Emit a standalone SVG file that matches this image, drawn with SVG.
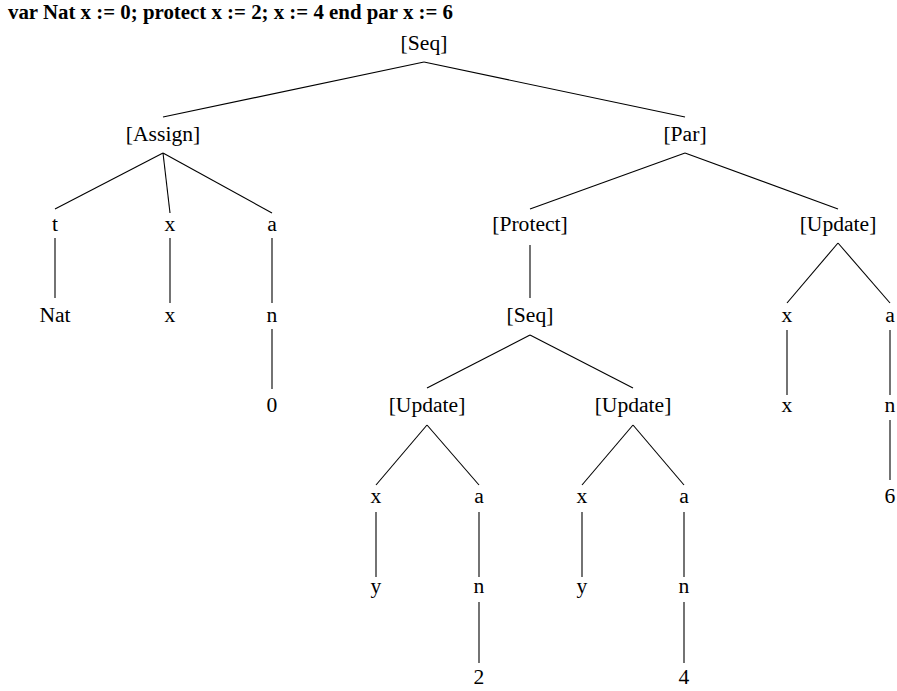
<svg xmlns="http://www.w3.org/2000/svg" width="897" height="691" viewBox="0 0 897 691">
<style>
text{font-family:"Liberation Serif","DejaVu Serif",serif;font-size:21.6px;fill:#000;text-anchor:middle}
.title{font-weight:bold;font-size:20px;text-anchor:start}
#edges line{stroke:#000;stroke-width:1.1}
</style>
<rect width="897" height="691" fill="#fff"/>
<text class="title" x="8" y="19" textLength="445" lengthAdjust="spacingAndGlyphs">var Nat x := 0; protect x := 2; x := 4 end par x := 6</text>
<g id="edges">
<line x1="424" y1="62" x2="163" y2="117"/>
<line x1="424" y1="62" x2="685" y2="117"/>
<line x1="163" y1="153" x2="55" y2="209"/>
<line x1="163" y1="153" x2="170" y2="213"/>
<line x1="163" y1="153" x2="272" y2="213"/>
<line x1="685" y1="153" x2="530" y2="209"/>
<line x1="685" y1="153" x2="838" y2="209"/>
<line x1="55" y1="238" x2="55" y2="298"/>
<line x1="170" y1="238" x2="170" y2="303"/>
<line x1="272" y1="238" x2="272" y2="303"/>
<line x1="272" y1="329" x2="272" y2="389"/>
<line x1="530" y1="245" x2="530" y2="298"/>
<line x1="838" y1="243" x2="787" y2="303"/>
<line x1="838" y1="243" x2="890" y2="303"/>
<line x1="530" y1="335" x2="427" y2="388"/>
<line x1="530" y1="335" x2="633" y2="388"/>
<line x1="787" y1="330" x2="787" y2="395"/>
<line x1="890" y1="330" x2="890" y2="395"/>
<line x1="890" y1="420" x2="890" y2="480"/>
<line x1="427" y1="425" x2="376" y2="485"/>
<line x1="427" y1="425" x2="479" y2="485"/>
<line x1="633" y1="425" x2="582" y2="485"/>
<line x1="633" y1="425" x2="684" y2="485"/>
<line x1="376" y1="512" x2="376" y2="577"/>
<line x1="479" y1="512" x2="479" y2="577"/>
<line x1="582" y1="512" x2="582" y2="577"/>
<line x1="684" y1="512" x2="684" y2="577"/>
<line x1="479" y1="602" x2="479" y2="663"/>
<line x1="684" y1="602" x2="684" y2="663"/>
</g>
<g id="n-seq"><text x="424" y="50">[Seq]</text></g>
<g id="n-assign"><text x="163" y="141">[Assign]</text></g>
<g id="n-par"><text x="685" y="141">[Par]</text></g>
<g id="n-t"><text x="55" y="231">t</text></g>
<g id="n-ax"><text x="170" y="231">x</text></g>
<g id="n-aa"><text x="272" y="231">a</text></g>
<g id="n-protect"><text x="530" y="231">[Protect]</text></g>
<g id="n-upd3"><text x="838" y="231">[Update]</text></g>
<g id="n-nat"><text x="55" y="322">Nat</text></g>
<g id="n-axx"><text x="170" y="322">x</text></g>
<g id="n-an"><text x="272" y="322">n</text></g>
<g id="n-seq2"><text x="530" y="322">[Seq]</text></g>
<g id="n-u3x"><text x="787" y="322">x</text></g>
<g id="n-u3a"><text x="890" y="322">a</text></g>
<g id="n-0"><text x="272" y="412">0</text></g>
<g id="n-upd1"><text x="427" y="412">[Update]</text></g>
<g id="n-upd2"><text x="633" y="412">[Update]</text></g>
<g id="n-u3xx"><text x="787" y="412">x</text></g>
<g id="n-u3n"><text x="890" y="412">n</text></g>
<g id="n-u1x"><text x="376" y="503">x</text></g>
<g id="n-u1a"><text x="479" y="503">a</text></g>
<g id="n-u2x"><text x="582" y="503">x</text></g>
<g id="n-u2a"><text x="684" y="503">a</text></g>
<g id="n-6"><text x="890" y="503">6</text></g>
<g id="n-u1y"><text x="376" y="593">y</text></g>
<g id="n-u1n"><text x="479" y="593">n</text></g>
<g id="n-u2y"><text x="582" y="593">y</text></g>
<g id="n-u2n"><text x="684" y="593">n</text></g>
<g id="n-2"><text x="479" y="684">2</text></g>
<g id="n-4"><text x="684" y="684">4</text></g>
</svg>
